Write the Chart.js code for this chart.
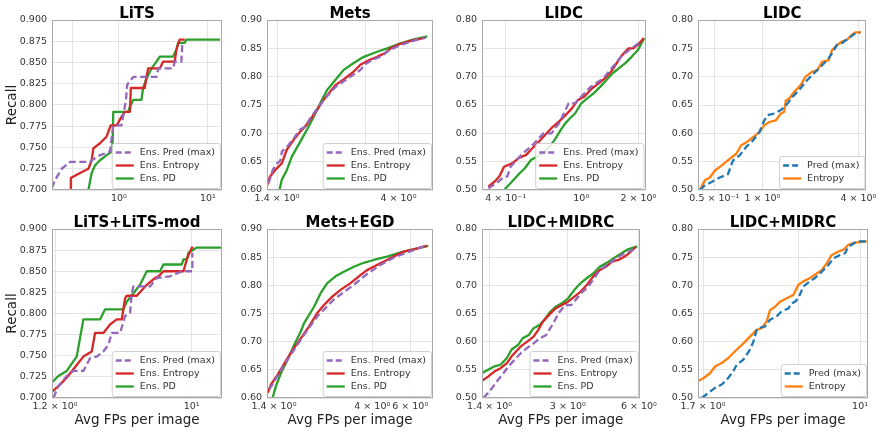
<!DOCTYPE html>
<html><head><meta charset="utf-8">
<script src="https://cdn.jsdelivr.net/npm/chart.js@4/dist/chart.umd.min.js"></script>
<style>
html,body{margin:0;padding:0;background:#fff;}
body{width:880px;height:433px;position:relative;overflow:hidden;}
canvas{position:absolute;}
</style></head><body>
<script>
// ---------------- DATA ----------------
const titles = ['LiTS','Mets','LIDC','LIDC','LiTS+LiTS-mod','Mets+EGD','LIDC+MIDRC','LIDC+MIDRC'];
const labelsEns = ['Ens. Pred (max)','Ens. Entropy','Ens. PD'];
const labelsTwo = ['Pred (max)','Entropy'];

// x tick values and tick labels per panel
const ticksLits = [0.3, 1, 10],        tickLabLits = ['', '10⁰', '10¹'];
const ticksMets = [1.4, 3, 4],         tickLabMets = ['1.4 × 10⁰', '', '4 × 10⁰'];
const ticksLidc = [0.4, 1, 2],         tickLabLidc = ['4 × 10⁻¹', '10⁰', '2 × 10⁰'];
const ticksLidc2 = [0.5, 1, 4],        tickLabLidc2 = ['0.5 × 10⁻¹', '1 × 10⁰', '4 × 10⁰'];
const ticksLitsMod = [1.2, 10],        tickLabLitsMod = ['1.2 × 10⁰', '10¹'];
const ticksMetsEgd = [1.4, 4, 6],      tickLabMetsEgd = ['1.4 × 10⁰', '4 × 10⁰', '6 × 10⁰'];
const ticksMidrc = [1.4, 3, 6],        tickLabMidrc = ['1.4 × 10⁰', '3 × 10⁰', '6 × 10⁰'];
const ticksMidrc2 = [1.7, 5, 10],      tickLabMidrc2 = ['1.7 × 10⁰', '', '10¹'];

// LiTS
const lits_pred = [[0.176,0.702],[0.192,0.712],[0.228,0.725],[0.283,0.733],[0.473,0.733],[0.494,0.735],[0.613,0.741],[0.793,0.745],[0.864,0.776],[1.07,0.776],[1.20,0.806],[1.24,0.824],[1.45,0.833],[2.64,0.833],[2.76,0.843],[4.06,0.843],[4.24,0.851],[5.03,0.851],[5.16,0.872]];
const lits_ent = [[0.288,0.700],[0.288,0.714],[0.366,0.720],[0.454,0.725],[0.494,0.735],[0.516,0.749],[0.613,0.755],[0.728,0.763],[0.807,0.776],[0.942,0.776],[1.07,0.786],[1.17,0.792],[1.33,0.792],[1.36,0.820],[1.95,0.820],[2.04,0.833],[2.13,0.843],[2.88,0.843],[3.13,0.851],[4.24,0.851],[4.42,0.865],[4.82,0.877],[5.48,0.877]];
const lits_pd = [[0.454,0.700],[0.494,0.720],[0.539,0.729],[0.613,0.735],[0.728,0.741],[0.828,0.745],[0.850,0.755],[0.864,0.792],[1.27,0.792],[1.33,0.798],[1.45,0.806],[1.79,0.806],[1.87,0.820],[2.04,0.831],[2.32,0.843],[2.64,0.851],[2.88,0.857],[4.06,0.857],[4.42,0.865],[4.62,0.873],[5.48,0.873],[5.72,0.877],[13.7,0.877]];
// Mets
const mets_pred = [[1.30,0.612],[1.35,0.636],[1.40,0.647],[1.44,0.652],[1.46,0.668],[1.52,0.675],[1.61,0.690],[1.70,0.706],[1.79,0.712],[1.86,0.726],[1.97,0.742],[2.09,0.758],[2.22,0.772],[2.32,0.782],[2.49,0.792],[2.72,0.804],[2.88,0.812],[3.00,0.822],[3.20,0.830],[3.45,0.836],[3.65,0.845],[3.90,0.852],[4.20,0.858],[4.60,0.864],[5.06,0.869]];
const mets_ent = [[1.280,0.606],[1.317,0.624],[1.376,0.635],[1.458,0.647],[1.522,0.671],[1.613,0.688],[1.709,0.703],[1.785,0.712],[1.864,0.724],[1.975,0.741],[2.093,0.759],[2.218,0.774],[2.316,0.785],[2.490,0.795],[2.715,0.809],[2.877,0.821],[3.093,0.829],[3.325,0.835],[3.574,0.842],[3.733,0.850],[4.071,0.858],[4.504,0.864],[5.057,0.869]];
const mets_pd = [[1.429,0.600],[1.458,0.618],[1.522,0.635],[1.590,0.659],[1.709,0.685],[1.811,0.706],[1.919,0.729],[2.033,0.753],[2.154,0.776],[2.316,0.794],[2.490,0.812],[2.715,0.824],[2.961,0.835],[3.325,0.844],[3.626,0.850],[4.071,0.859],[4.570,0.866],[5.131,0.871]];
// LIDC (3 ensembles)
const lidc_pred = [[0.324,0.503],[0.357,0.512],[0.385,0.521],[0.408,0.524],[0.424,0.541],[0.484,0.562],[0.564,0.582],[0.632,0.600],[0.696,0.600],[0.765,0.618],[0.826,0.641],[0.858,0.653],[0.927,0.653],[1.0,0.665],[1.121,0.682],[1.306,0.697],[1.522,0.724],[1.643,0.738],[2.066,0.762]];
const lidc_ent = [[0.324,0.506],[0.350,0.515],[0.370,0.524],[0.392,0.541],[0.432,0.547],[0.466,0.556],[0.513,0.562],[0.543,0.571],[0.586,0.582],[0.632,0.594],[0.696,0.609],[0.765,0.621],[0.826,0.632],[0.892,0.644],[0.962,0.659],[1.039,0.665],[1.121,0.677],[1.234,0.688],[1.331,0.697],[1.437,0.709],[1.551,0.726],[1.643,0.738],[1.774,0.750],[1.877,0.750],[1.989,0.756],[2.130,0.768]];
const lidc_pd = [[0.392,0.500],[0.432,0.515],[0.475,0.530],[0.503,0.538],[0.543,0.553],[0.586,0.559],[0.632,0.565],[0.682,0.577],[0.723,0.588],[0.780,0.606],[0.826,0.618],[0.875,0.627],[0.927,0.635],[1.0,0.653],[1.079,0.662],[1.165,0.671],[1.257,0.682],[1.357,0.694],[1.465,0.706],[1.581,0.715],[1.707,0.724],[1.842,0.735],[1.989,0.747],[2.147,0.768]];
// LIDC (single models)
const lidc2_pred = [[0.406,0.500],[0.436,0.508],[0.480,0.514],[0.541,0.522],[0.609,0.528],[0.654,0.552],[0.720,0.561],[0.792,0.576],[0.871,0.587],[0.958,0.602],[1.029,0.623],[1.079,0.632],[1.187,0.635],[1.306,0.641],[1.403,0.649],[1.543,0.664],[1.697,0.676],[1.867,0.691],[2.054,0.703],[2.314,0.717],[2.546,0.729],[2.734,0.741],[2.938,0.756],[3.155,0.759],[3.471,0.768],[3.818,0.776],[4.101,0.778]];
const lidc2_ent = [[0.406,0.500],[0.436,0.517],[0.469,0.522],[0.503,0.534],[0.554,0.543],[0.624,0.555],[0.686,0.564],[0.737,0.579],[0.792,0.584],[0.871,0.593],[0.958,0.602],[1.029,0.614],[1.105,0.620],[1.216,0.623],[1.306,0.635],[1.370,0.638],[1.403,0.658],[1.471,0.661],[1.581,0.673],[1.739,0.685],[1.867,0.700],[2.054,0.709],[2.207,0.711],[2.370,0.726],[2.607,0.729],[2.734,0.747],[2.938,0.756],[3.155,0.762],[3.388,0.765],[3.640,0.774],[3.818,0.778],[4.140,0.778]];
// LiTS+LiTS-mod
const litsmod_pred = [[1.169,0.700],[1.264,0.714],[1.439,0.726],[1.595,0.732],[1.863,0.732],[2.067,0.747],[2.292,0.749],[2.541,0.755],[2.747,0.763],[2.892,0.777],[3.292,0.777],[3.558,0.797],[3.845,0.801],[3.946,0.824],[4.049,0.832],[5.244,0.832],[5.816,0.842],[7.155,0.844],[8.574,0.850],[10.1,0.850],[10.1,0.872]];
const litsmod_ent = [[1.139,0.707],[1.264,0.714],[1.439,0.724],[1.680,0.739],[1.863,0.749],[2.121,0.755],[2.233,0.777],[2.541,0.777],[2.818,0.787],[3.126,0.793],[3.379,0.793],[3.558,0.818],[3.651,0.821],[4.264,0.821],[4.980,0.834],[5.667,0.842],[5.968,0.844],[6.450,0.850],[8.798,0.850],[9.266,0.864],[10.01,0.878],[10.28,0.878]];
const litsmod_pd = [[1.139,0.718],[1.264,0.726],[1.439,0.732],[1.680,0.749],[1.863,0.793],[2.413,0.793],[2.608,0.805],[3.467,0.805],[3.651,0.814],[4.489,0.834],[4.980,0.850],[6.125,0.850],[6.450,0.858],[8.574,0.858],[8.798,0.864],[9.266,0.864],[9.509,0.872],[10.82,0.878],[16.0,0.878]];
// Mets+EGD
const metsegd_pred = [[1.33,0.615],[1.405,0.630],[1.62,0.668],[1.80,0.695],[1.93,0.712],[2.225,0.745],[2.656,0.775],[3.284,0.801],[3.782,0.820],[4.357,0.836],[5.019,0.849],[5.781,0.858],[7.025,0.870]];
const metsegd_ent = [[1.309,0.609],[1.356,0.624],[1.455,0.641],[1.619,0.671],[1.737,0.689],[1.864,0.706],[2.037,0.727],[2.225,0.751],[2.388,0.765],[2.609,0.780],[2.850,0.792],[3.170,0.804],[3.524,0.818],[3.782,0.827],[4.205,0.836],[4.677,0.845],[5.019,0.851],[5.580,0.860],[6.206,0.864],[7.151,0.870]];
const metsegd_pd = [[1.380,0.600],[1.430,0.621],[1.508,0.644],[1.619,0.668],[1.737,0.694],[1.864,0.718],[1.932,0.733],[2.148,0.762],[2.305,0.786],[2.474,0.804],[2.703,0.816],[2.953,0.824],[3.284,0.833],[3.651,0.840],[4.058,0.845],[4.677,0.851],[5.386,0.858],[6.206,0.864],[7.278,0.870]];
// LIDC+MIDRC (3 ensembles)
const midrc_pred = [[1.317,0.500],[1.400,0.512],[1.488,0.527],[1.582,0.541],[1.682,0.556],[1.788,0.568],[1.901,0.580],[2.021,0.589],[2.149,0.597],[2.285,0.606],[2.429,0.612],[2.583,0.630],[2.746,0.651],[2.920,0.665],[3.103,0.665],[3.200,0.671],[3.402,0.686],[3.617,0.695],[3.846,0.710],[4.089,0.727],[4.482,0.739],[5.066,0.754],[5.726,0.764]];
const midrc_ent = [[1.297,0.530],[1.379,0.538],[1.466,0.547],[1.558,0.553],[1.657,0.562],[1.735,0.574],[1.816,0.583],[1.901,0.592],[2.021,0.600],[2.149,0.609],[2.250,0.621],[2.356,0.636],[2.505,0.648],[2.663,0.659],[2.831,0.665],[3.009,0.671],[3.200,0.680],[3.402,0.689],[3.617,0.701],[3.846,0.716],[4.089,0.727],[4.346,0.733],[4.621,0.742],[4.912,0.745],[5.224,0.751],[5.553,0.760],[5.813,0.768]];
const midrc_pd = [[1.297,0.544],[1.379,0.550],[1.466,0.556],[1.558,0.559],[1.657,0.571],[1.735,0.586],[1.845,0.594],[1.931,0.606],[2.052,0.612],[2.149,0.624],[2.285,0.630],[2.392,0.639],[2.505,0.651],[2.663,0.662],[2.831,0.668],[3.009,0.677],[3.200,0.692],[3.402,0.704],[3.617,0.713],[3.846,0.721],[4.089,0.733],[4.346,0.739],[4.693,0.748],[5.066,0.757],[5.386,0.764],[5.903,0.769]];
// LIDC+MIDRC (single models)
const midrc2_pred = [[1.675,0.500],[1.805,0.509],[1.946,0.518],[2.099,0.524],[2.221,0.532],[2.394,0.548],[2.486,0.559],[2.680,0.568],[2.889,0.586],[3.001,0.600],[3.115,0.621],[3.174,0.624],[3.422,0.627],[3.621,0.639],[3.905,0.645],[4.130,0.654],[4.453,0.659],[4.624,0.668],[4.800,0.671],[4.985,0.677],[5.276,0.698],[5.686,0.707],[6.017,0.713],[6.487,0.724],[6.996,0.736],[7.402,0.748],[7.980,0.754],[8.444,0.757],[8.768,0.769],[9.104,0.772],[9.632,0.778],[10.78,0.778]];
const midrc2_ent = [[1.601,0.530],[1.706,0.535],[1.839,0.544],[1.946,0.556],[2.099,0.562],[2.263,0.571],[2.440,0.583],[2.680,0.597],[2.944,0.612],[3.115,0.621],[3.296,0.624],[3.487,0.636],[3.621,0.656],[3.832,0.662],[4.054,0.671],[4.370,0.677],[4.711,0.683],[4.985,0.701],[5.276,0.707],[5.686,0.713],[6.131,0.721],[6.487,0.727],[6.865,0.739],[7.264,0.754],[7.832,0.760],[8.286,0.763],[8.768,0.772],[9.452,0.776],[10.78,0.778]];

// ---------------- RENDERING ----------------
const FONT = "'DejaVu Sans', sans-serif";
const COL = {pred:'#9467bd', ent:'#d62728', pd:'#2ca02c', blue:'#1f77b4', orange:'#ff7f0e'};

const frameLegend = {
  id: 'frameLegend',
  afterDraw(chart) {
    const {ctx, chartArea: a} = chart;
    ctx.save();
    ctx.strokeStyle = '#a9a9a9'; ctx.lineWidth = 1; ctx.setLineDash([]);
    ctx.strokeRect(Math.round(a.left) + 0.5, Math.round(a.top) + 0.5,
                   Math.round(a.right - a.left) - 1, Math.round(a.bottom - a.top) - 1);
    const ds = chart.data.datasets;
    ctx.font = '9.5px ' + FONT;
    const textW = Math.max(...ds.map(d => ctx.measureText(d.label).width));
    const rowH = 13, padX = 4, handle = 18, gap = 6;
    const bw = padX + handle + gap + textW + padX + 1;
    const bh = ds.length * rowH + 6;
    const bx = a.right - 2 - bw, by = a.bottom - 2 - bh;
    ctx.beginPath();
    if (ctx.roundRect) ctx.roundRect(bx + 0.5, by + 0.5, bw, bh, 2.5); else ctx.rect(bx + 0.5, by + 0.5, bw, bh);
    ctx.fillStyle = 'rgba(255,255,255,0.85)'; ctx.fill();
    ctx.strokeStyle = '#d0d0d0'; ctx.lineWidth = 1; ctx.stroke();
    ds.forEach((d, i) => {
      const cy = by + 3 + rowH * i + rowH / 2;
      ctx.strokeStyle = d.borderColor; ctx.lineWidth = d.borderWidth;
      ctx.setLineDash(d.borderDash ? [6, 3] : []);
      ctx.beginPath(); ctx.moveTo(bx + padX, cy); ctx.lineTo(bx + padX + handle, cy); ctx.stroke();
      ctx.setLineDash([]);
      ctx.fillStyle = '#333'; ctx.textBaseline = 'middle'; ctx.textAlign = 'left';
      ctx.fillText(d.label, bx + padX + handle + gap, cy + 0.5);
    });
    ctx.restore();
  }
};

function series(label, pts, color, dashed) {
  return {
    label, data: pts.map(p => ({x: p[0], y: p[1]})),
    borderColor: color, backgroundColor: color, borderWidth: 2.3,
    borderDash: dashed ? [7, 3.5] : undefined,
    pointRadius: 0, tension: 0, fill: false, borderJoinStyle: 'round'
  };
}

function panel(p) {
  const yw = p.left === 52 ? 52 : 40;
  const titleH = 20, padR = 12, xh = p.xTitle ? 35 : 20;
  const W = yw + p.w + padR, H = titleH + p.h + xh;
  const cv = document.createElement('canvas');
  cv.width = W; cv.height = H;
  cv.style.left = (p.left - yw) + 'px'; cv.style.top = (p.top - titleH) + 'px';
  cv.style.width = W + 'px'; cv.style.height = H + 'px';
  document.body.appendChild(cv);
  new Chart(cv, {
    type: 'line',
    data: {datasets: p.datasets},
    plugins: [frameLegend],
    options: {
      responsive: false, animation: false, devicePixelRatio: 1,
      layout: {padding: {left: 0, top: 0, bottom: 0, right: padR}},
      plugins: {
        legend: {display: false}, tooltip: {enabled: false},
        title: {display: true, text: p.title, color: '#000', fullSize: false,
                font: {family: FONT, size: 15, weight: 'bold', lineHeight: 0.8}, padding: {top: 8, bottom: 0}}
      },
      scales: {
        x: {
          type: 'logarithmic', min: p.xmin, max: p.xmax,
          afterBuildTicks: s => { s.ticks = p.xticks.map(v => ({value: v})); },
          afterFit: s => { s.height = xh; },
          ticks: {autoSkip: false, maxRotation: 0, minRotation: 0, padding: 3, color: '#333',
                  font: {family: FONT, size: 9.5}, callback: (v, i) => p.xlabels[i]},
          grid: {color: '#e4e4e4', lineWidth: 1, drawTicks: false},
          border: {display: false},
          title: p.xTitle ? {display: true, text: 'Avg FPs per image', color: '#222',
                 font: {family: FONT, size: 13.5}, padding: {top: 0, bottom: 4}} : {display: false}
        },
        y: {
          type: 'linear', min: p.ymin, max: p.ymax,
          afterFit: s => { s.width = yw; },
          ticks: {stepSize: p.ystep, padding: 5, color: '#333', font: {family: FONT, size: 9.5},
                  callback: v => Number(v).toFixed(p.ydec)},
          grid: {color: '#e4e4e4', lineWidth: 1, drawTicks: false},
          border: {display: false},
          title: p.left === 52 ? {display: true, text: 'Recall', color: '#222',
                 font: {family: FONT, size: 13.5}, padding: {top: 4, bottom: 0}} : {display: false}
        }
      }
    }
  });
}

const ens = (a, b, c) => [series(labelsEns[0], a, COL.pred, true), series(labelsEns[1], b, COL.ent, false), series(labelsEns[2], c, COL.pd, false)];
const two = (a, b) => [series(labelsTwo[0], a, COL.blue, true), series(labelsTwo[1], b, COL.orange, false)];

panel({title: titles[0], left: 52, top: 20, w: 170, h: 170, xmin: 0.177, xmax: 14.4, xticks: ticksLits, xlabels: tickLabLits, ymin: 0.7, ymax: 0.9, ystep: 0.025, ydec: 3, datasets: ens(lits_pred, lits_ent, lits_pd)});
panel({title: titles[1], left: 267, top: 20, w: 166, h: 170, xmin: 1.283, xmax: 5.39, xticks: ticksMets, xlabels: tickLabMets, ymin: 0.6, ymax: 0.9, ystep: 0.05, ydec: 2, datasets: ens(mets_pred, mets_ent, mets_pd)});
panel({title: titles[2], left: 482, top: 20, w: 166, h: 170, xmin: 0.3254, xmax: 2.18, xticks: ticksLidc, xlabels: tickLabLidc, ymin: 0.5, ymax: 0.8, ystep: 0.05, ydec: 2, datasets: ens(lidc_pred, lidc_ent, lidc_pd)});
panel({title: titles[3], left: 698, top: 20, w: 170, h: 170, xmin: 0.395, xmax: 4.49, xticks: ticksLidc2, xlabels: tickLabLidc2, ymin: 0.5, ymax: 0.8, ystep: 0.05, ydec: 2, datasets: two(lidc2_pred, lidc2_ent)});
panel({title: titles[4], left: 52, top: 229, w: 170, h: 169, xTitle: true, xmin: 1.145, xmax: 16.0, xticks: ticksLitsMod, xlabels: tickLabLitsMod, ymin: 0.7, ymax: 0.9, ystep: 0.025, ydec: 3, datasets: ens(litsmod_pred, litsmod_ent, litsmod_pd)});
panel({title: titles[5], left: 267, top: 229, w: 166, h: 169, xTitle: true, xmin: 1.313, xmax: 7.65, xticks: ticksMetsEgd, xlabels: tickLabMetsEgd, ymin: 0.6, ymax: 0.9, ystep: 0.05, ydec: 2, datasets: ens(metsegd_pred, metsegd_ent, metsegd_pd)});
panel({title: titles[6], left: 482, top: 229, w: 166, h: 169, xTitle: true, xmin: 1.30, xmax: 6.05, xticks: ticksMidrc, xlabels: tickLabMidrc, ymin: 0.5, ymax: 0.8, ystep: 0.05, ydec: 2, datasets: ens(midrc_pred, midrc_ent, midrc_pd)});
panel({title: titles[7], left: 698, top: 229, w: 170, h: 169, xTitle: true, xmin: 1.606, xmax: 10.94, xticks: ticksMidrc2, xlabels: tickLabMidrc2, ymin: 0.5, ymax: 0.8, ystep: 0.05, ydec: 2, datasets: two(midrc2_pred, midrc2_ent)});
</script>
</body></html>
